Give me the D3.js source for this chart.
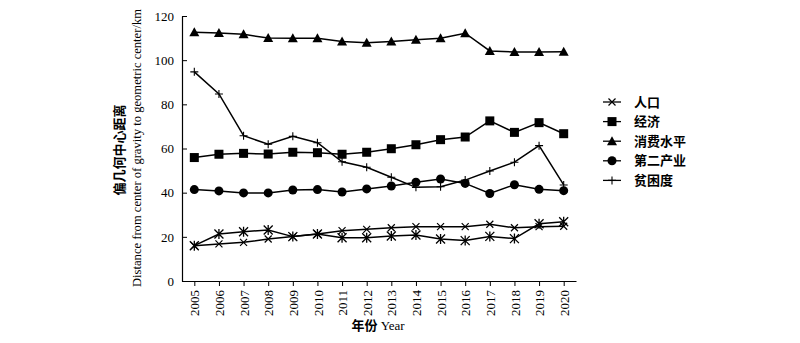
<!DOCTYPE html>
<html><head><meta charset="utf-8">
<script src="https://cdn.jsdelivr.net/npm/d3@7"></script>
<style>body{margin:0;background:#fff}svg{display:block}</style>
</head><body><svg id="c" width="800" height="343"></svg>
<script>
const years = ["2005","2006","2007","2008","2009","2010","2011","2012","2013","2014","2015","2016","2017","2018","2019","2020"];
const yTicks = [0,20,40,60,80,100,120];
const renkou = [16.0,16.8,17.5,19.0,20.1,21.3,22.8,23.4,24.1,24.6,24.6,24.6,25.7,24.1,24.6,24.8];
const renkouB = [16.0,21.3,22.3,23.1,20.1,21.3,19.6,19.6,20.4,20.8,19.0,18.3,20.2,19.2,25.9,26.8];
const jingji = [55.9,57.4,57.8,57.5,58.3,58.1,57.4,58.3,59.9,61.7,64.0,65.2,72.5,67.3,71.7,66.7];
const xiaofei = [112.6,112.3,111.7,110.0,109.9,109.9,108.4,107.9,108.5,109.3,109.9,112.2,104.2,103.7,103.7,103.8];
const dier = [41.4,40.8,39.9,39.9,41.2,41.4,40.3,41.7,43.0,44.7,46.2,44.2,39.6,43.6,41.5,40.9];
const pinkun = [94.7,84.7,65.8,61.9,65.5,62.6,54.0,51.5,47.0,42.4,42.7,45.7,49.8,53.8,61.3,43.5];
const legendNames = ["人口","经济","消费水平","第二产业","贫困度"];

const series = [
  {name:"人口", values:renkou, marker:"x", legend:true},
  {name:"人口B", values:renkouB, marker:"star", legend:false},
  {name:"经济", values:jingji, marker:"square", legend:true},
  {name:"消费水平", values:xiaofei, marker:"triangle", legend:true},
  {name:"第二产业", values:dier, marker:"circle", legend:true},
  {name:"贫困度", values:pinkun, marker:"plus", legend:true}
];

const svg = d3.select("#c");
const font = "'Liberation Serif','Times New Roman',serif";
const cjk = "'Liberation Serif','Noto Sans CJK SC',serif";
const x = d3.scalePoint().domain(years).range([182,576]).padding(0.5);
const y = d3.scaleLinear().domain([0,120]).range([281,16]);

// axes
const xa = svg.append("g").attr("transform","translate(0,281)")
  .call(d3.axisBottom(x).tickSize(5).tickSizeOuter(0));
xa.select(".domain").attr("stroke","#000").attr("stroke-width",1.2);
xa.selectAll(".tick line").attr("stroke","#000");
xa.selectAll(".tick text").attr("font-family",font).attr("font-size",13).attr("fill","#000")
  .attr("transform","rotate(-90)").attr("text-anchor","end").attr("x",-9).attr("y",0).attr("dy","0.35em");

const ya = svg.append("g").attr("transform","translate(182,0)")
  .call(d3.axisLeft(y).tickValues(yTicks).tickSize(-5).tickSizeOuter(0).tickPadding(8));
ya.select(".domain").attr("stroke","#000").attr("stroke-width",1.2);
ya.selectAll(".tick line").attr("stroke","#000");
ya.selectAll(".tick text").attr("font-family",font).attr("font-size",13).attr("fill","#000");

// titles
svg.append("text").attr("transform","translate(124,150) rotate(-90)").attr("text-anchor","middle")
  .attr("font-family",cjk).attr("font-size",13).attr("font-weight","bold").text("偏几何中心距离");
svg.append("text").attr("transform","translate(141,148) rotate(-90)").attr("text-anchor","middle")
  .attr("font-family",font).attr("font-size",12.6).text("Distance from center of gravity to geometric center/km");
const xt = svg.append("text").attr("x",378).attr("y",330).attr("text-anchor","middle").attr("font-family",font).attr("font-size",13);
xt.append("tspan").attr("font-family",cjk).attr("font-weight","bold").text("年份");
xt.append("tspan").text(" Year");

function drawMarker(g, type, cx, cy){
  const s = g.append("g").attr("transform",`translate(${cx},${cy})`);
  if(type==="square") s.append("rect").attr("x",-4.5).attr("y",-4.5).attr("width",9).attr("height",9).attr("fill","#000");
  else if(type==="circle") s.append("circle").attr("r",4.5).attr("fill","#000");
  else if(type==="triangle") s.append("path").attr("d","M0,-5L5,4L-5,4Z").attr("fill","#000");
  else if(type==="x") s.append("path").attr("d","M-3.5,-3.5L3.5,3.5M-3.5,3.5L3.5,-3.5").attr("stroke","#000").attr("stroke-width",1.2);
  else if(type==="star") s.append("path").attr("d","M-4.5,-4.5L4.5,4.5M-4.5,4.5L4.5,-4.5M0,-5L0,5").attr("stroke","#000").attr("stroke-width",1.3);
  else if(type==="plus") s.append("path").attr("d","M-4,0L4,0M0,-4L0,4").attr("stroke","#000").attr("stroke-width",1.1);
}

const line = d3.line().x((d,i)=>x(years[i])).y(d=>y(d));
series.forEach(s=>{
  const g = svg.append("g");
  g.append("path").datum(s.values).attr("d",line).attr("fill","none").attr("stroke","#000").attr("stroke-width",1.5);
  s.values.forEach((v,i)=>drawMarker(g,s.marker,x(years[i]),y(v)));
});

// legend
const lg = svg.append("g");
series.filter(s=>s.legend).forEach((s,i)=>{
  const yy = 102 + i*19.6;
  lg.append("line").attr("x1",603).attr("x2",621).attr("y1",yy).attr("y2",yy).attr("stroke","#000").attr("stroke-width",1.3);
  drawMarker(lg, s.marker, 612, yy);
  lg.append("text").attr("x",634).attr("y",yy).attr("dy","0.35em").attr("font-family",cjk).attr("font-size",13).attr("font-weight","bold").text(legendNames[i]);
});
</script></body></html>
